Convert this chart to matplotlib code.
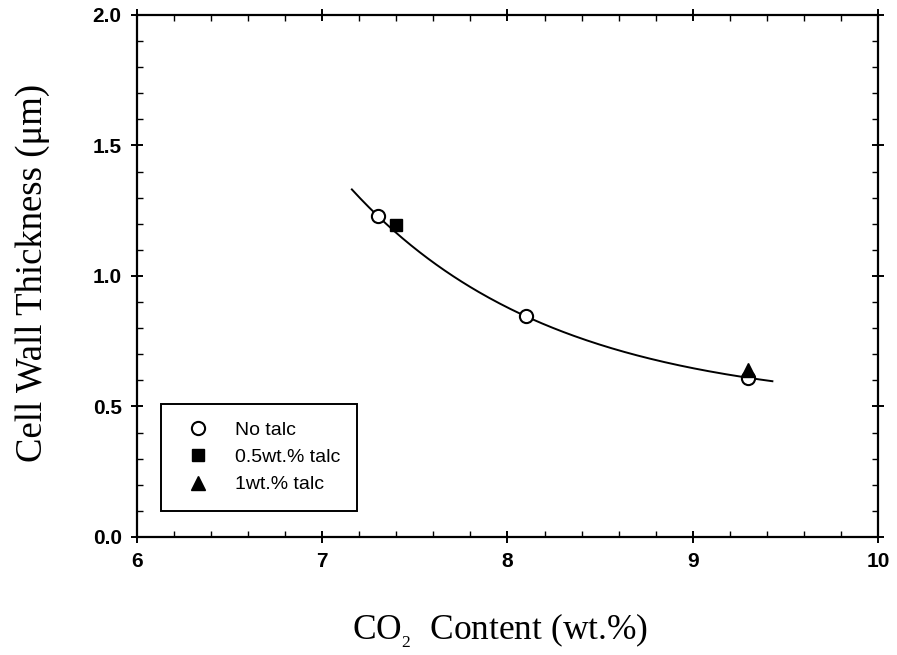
import numpy as np
import matplotlib.pyplot as plt
from matplotlib.ticker import MultipleLocator, FormatStrFormatter

plt.rcParams["mathtext.fontset"] = "custom"
plt.rcParams["mathtext.rm"] = "Liberation Serif"
plt.rcParams["mathtext.it"] = "Liberation Serif"

# data
no_talc_x = [7.3, 8.1, 9.3]
no_talc_y = [1.23, 0.845, 0.61]
talc05_x = [7.4]
talc05_y = [1.195]
talc1_x = [9.3]
talc1_y = [0.64]

fit_range = (7.16, 9.43)


# fit y = y0 + a*exp(-b*x) (grid over b, linear lsq for y0, a)
def fit_exp(x, y):
    best = None
    for b in np.linspace(0.1, 5, 981):
        A = np.column_stack([np.ones_like(x), np.exp(-b * x)])
        coef, *_ = np.linalg.lstsq(A, y, rcond=None)
        err = np.sum((A @ coef - y) ** 2)
        if best is None or err < best[0]:
            best = (err, coef, b)
    _, (y0, a), b = best
    return lambda t: y0 + a * np.exp(-b * t)


def main():
    # curve is fitted to the no-talc series
    f = fit_exp(np.array(no_talc_x), np.array(no_talc_y))
    xc = np.linspace(*fit_range, 200)

    fig = plt.figure(figsize=(8.97, 6.55), dpi=100)
    ax = fig.add_axes([0.1527, 0.1802, 0.8261, 0.7969])

    ax.plot(xc, f(xc), color="black", lw=1.4)
    ax.plot(no_talc_x, no_talc_y, "o", mfc="white", mec="black", mew=1.5,
            ms=9.5, label="No talc", ls="none")
    ax.plot(talc05_x, talc05_y, "s", color="black", ms=8.5,
            label="0.5wt.% talc", ls="none")
    ax.plot(talc1_x, talc1_y, "^", color="black", ms=9.5,
            label="1wt.% talc", ls="none")

    ax.set_xlim(6, 10)
    ax.set_ylim(0, 2.0)
    ax.xaxis.set_major_locator(MultipleLocator(1))
    ax.xaxis.set_minor_locator(MultipleLocator(0.2))
    ax.yaxis.set_major_locator(MultipleLocator(0.5))
    ax.yaxis.set_minor_locator(MultipleLocator(0.1))
    ax.yaxis.set_major_formatter(FormatStrFormatter("%.1f"))

    for s in ax.spines.values():
        s.set_linewidth(1.6)
    ax.tick_params(which="major", direction="inout", length=8, width=1.4,
                   top=True, right=True, labelsize=15, pad=7)
    ax.tick_params(which="minor", direction="in", length=4, width=1.0,
                   top=True, right=True)
    for lab in ax.get_xticklabels() + ax.get_yticklabels():
        lab.set_fontfamily("Liberation Sans")
        lab.set_fontweight("bold")

    ax.set_xlabel(r"CO$_{_2}$  Content (wt.%)", fontfamily="Liberation Serif",
                  fontsize=25.5)
    ax.set_ylabel("Cell Wall Thickness (\u03bcm)", fontfamily="Liberation Serif",
                  fontsize=26.5)
    ax.xaxis.set_label_coords(0.49, -0.143)
    ax.yaxis.set_label_coords(-0.118, 0.505)

    leg = ax.legend(loc="lower left", bbox_to_anchor=(0.032, 0.05),
                    borderaxespad=0, fancybox=False, edgecolor="black",
                    framealpha=1, prop={"family": "Liberation Sans", "size": 14},
                    handletextpad=0.9, borderpad=0.9, labelspacing=0.5,
                    handlelength=2.0)
    leg.get_frame().set_linewidth(1.4)

    fig.savefig("out.png", dpi=100)
    plt.close(fig)


if __name__ == "__main__":
    main()
